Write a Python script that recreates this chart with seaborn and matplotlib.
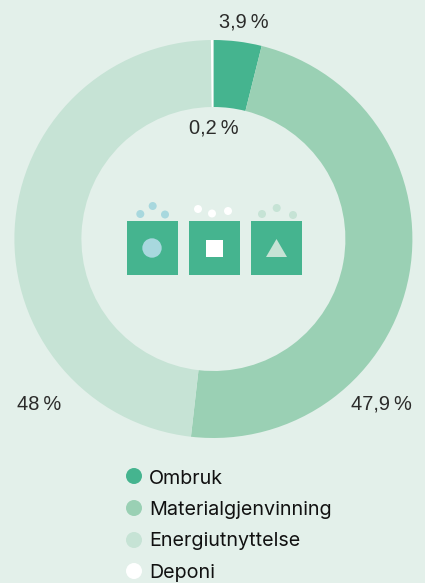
import matplotlib
matplotlib.use('Agg')
from matplotlib import pyplot as plt
from matplotlib.patches import Circle, Polygon, Rectangle
import seaborn as sns

categories = ['Ombruk', 'Materialgjenvinning', 'Energiutnyttelse', 'Deponi']
values = [3.9, 47.9, 48.0, 0.2]
value_labels = ['3,9\u2009%', '47,9\u2009%', '48\u2009%', '0,2\u2009%']
colors = ['#45B48F', '#9AD0B4', '#C6E3D5', '#FFFFFF']
bg = '#E3F0EA'
text_col = '#2B2B2A'
blue = '#A8D8DE'

sns.set_theme(style='white')
plt.rcParams['font.family'] = ['Inter', 'DejaVu Sans']

fig = plt.figure(figsize=(4.25, 5.83), dpi=100, facecolor=bg)
ax = fig.add_axes([0, 0, 1, 1])


# picture y runs downwards, axes y upwards
def py(y):
    return 583 - y


ax.pie(values, colors=colors, startangle=90, counterclock=False,
       center=(213.4, py(239)), radius=199, frame=True,
       wedgeprops={'width': 67, 'linewidth': 0})
ax.set_xlim(0, 425)
ax.set_ylim(0, 583)
ax.set_aspect('equal')
ax.set_axis_off()

# value labels
label_pos = [(244, 28), (381, 410), (39, 410), (214, 134)]
for lab, (x, y) in zip(value_labels, label_pos):
    ax.text(x, py(y), lab, ha='center', va='baseline', fontsize=14.4,
            fontfamily='Liberation Sans', color=text_col)

# icons in the middle
for x in [127, 189, 251]:
    ax.add_patch(Rectangle((x, py(275)), 51, 54, color=colors[0], lw=0))
ax.add_patch(Circle((152, py(248)), 9.7, color=blue, lw=0))
ax.add_patch(Rectangle((206, py(257)), 17, 17, color='white', lw=0))
ax.add_patch(Polygon([(266, py(257)), (287, py(257)), (276.5, py(239))],
                     color=colors[2], lw=0))
dots = [(140.3, 214, blue), (152.7, 206, blue), (165, 214.5, blue),
        (198, 209, 'white'), (212, 213.5, 'white'), (228, 211, 'white'),
        (262, 214, colors[2]), (276.7, 208, colors[2]), (293, 215, colors[2])]
for x, y, c in dots:
    ax.add_patch(Circle((x, py(y)), 4, color=c, lw=0))

# legend
legend_y = [476, 508, 540, 571]
legend_base = [483.5, 515, 546.5, 578]
for cat, col, y, b in zip(categories, colors, legend_y, legend_base):
    ax.add_patch(Circle((134, py(y)), 8, color=col, lw=0))
    ax.text(149, py(b), cat, ha='left', va='baseline', fontsize=14.2,
            color='#111111')

fig.savefig('out.png', dpi=100, facecolor=bg)
